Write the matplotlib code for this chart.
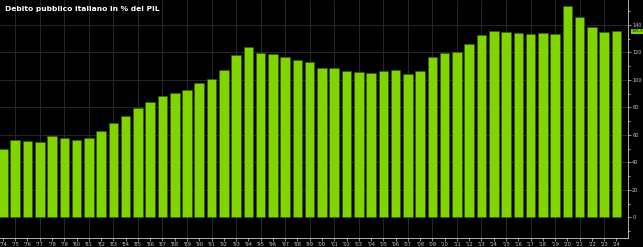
import matplotlib
matplotlib.use("Agg")
import matplotlib.pyplot as plt
from matplotlib.ticker import MultipleLocator

years = list(range(1974, 2025))
values = [49.6, 56.1, 55.6, 54.9, 59.0, 58.1, 56.1, 58.1, 62.7, 68.5,
          74.1, 79.9, 84.0, 88.5, 90.5, 92.7, 97.6, 100.7, 107.5, 118.0,
          124.2, 119.4, 119.2, 117.0, 114.3, 113.3, 109.0, 108.7, 106.3, 105.6,
          105.1, 106.8, 107.0, 104.4, 106.3, 116.5, 119.4, 120.1, 126.4, 132.5,
          135.4, 134.7, 134.0, 133.7, 134.0, 133.7, 154.0, 145.5, 138.3, 134.7,
          135.3]
title = "Debito pubblico italiano in % del PIL"
last_label = "135.3"
yticks = [0, 20, 40, 60, 80, 100, 120, 140]

bar_color = "#80d400"
fig = plt.figure(figsize=(6.43, 2.47), dpi=100, facecolor="black")
ax = fig.add_axes([0, 0.038, 628 / 643, 0.962])
ax.set_facecolor("black")

ax.bar(years, values, width=0.78, color=bar_color, edgecolor="#3a5a00", linewidth=0.4, zorder=3)

ax.set_xlim(1973.76, 2024.94)
ax.set_ylim(-14.7, 158.2)

ax.yaxis.tick_right()
ax.set_yticks(yticks)
ax.yaxis.set_minor_locator(MultipleLocator(10))
ax.set_yticklabels([str(v) for v in yticks])
ax.set_xticks(years)
ax.set_xticklabels(["'" + str(y)[2:] for y in years])

ax.tick_params(axis="both", colors="#cccccc", labelsize=3.6, length=2, width=0.5, pad=1)
ax.tick_params(axis="y", which="minor", colors="#cccccc", length=1.2, width=0.5)

for s in ["top", "left"]:
    ax.spines[s].set_visible(False)
for s in ["bottom", "right"]:
    ax.spines[s].set_color("#cccccc")
    ax.spines[s].set_linewidth(0.6)

for v in yticks[1:]:
    ax.axhline(v, color="#2e2e2e", linewidth=0.6, zorder=1)
for y in years:
    if y % 2 == 1:
        ax.axvline(y, color="#2e2e2e", linewidth=0.6, zorder=1)

ax.text(1.006, values[-1], last_label, transform=ax.get_yaxis_transform(),
        fontsize=3.0, color="black", va="center", ha="left",
        bbox=dict(boxstyle="square,pad=0.2", fc=bar_color, ec="none"), clip_on=False)

fig.text(5 / 643, 1 - 9 / 247, title, color="white", fontsize=5.4, fontweight="bold",
         ha="left", va="center")

fig.savefig("out.png", dpi=100, facecolor="black")
